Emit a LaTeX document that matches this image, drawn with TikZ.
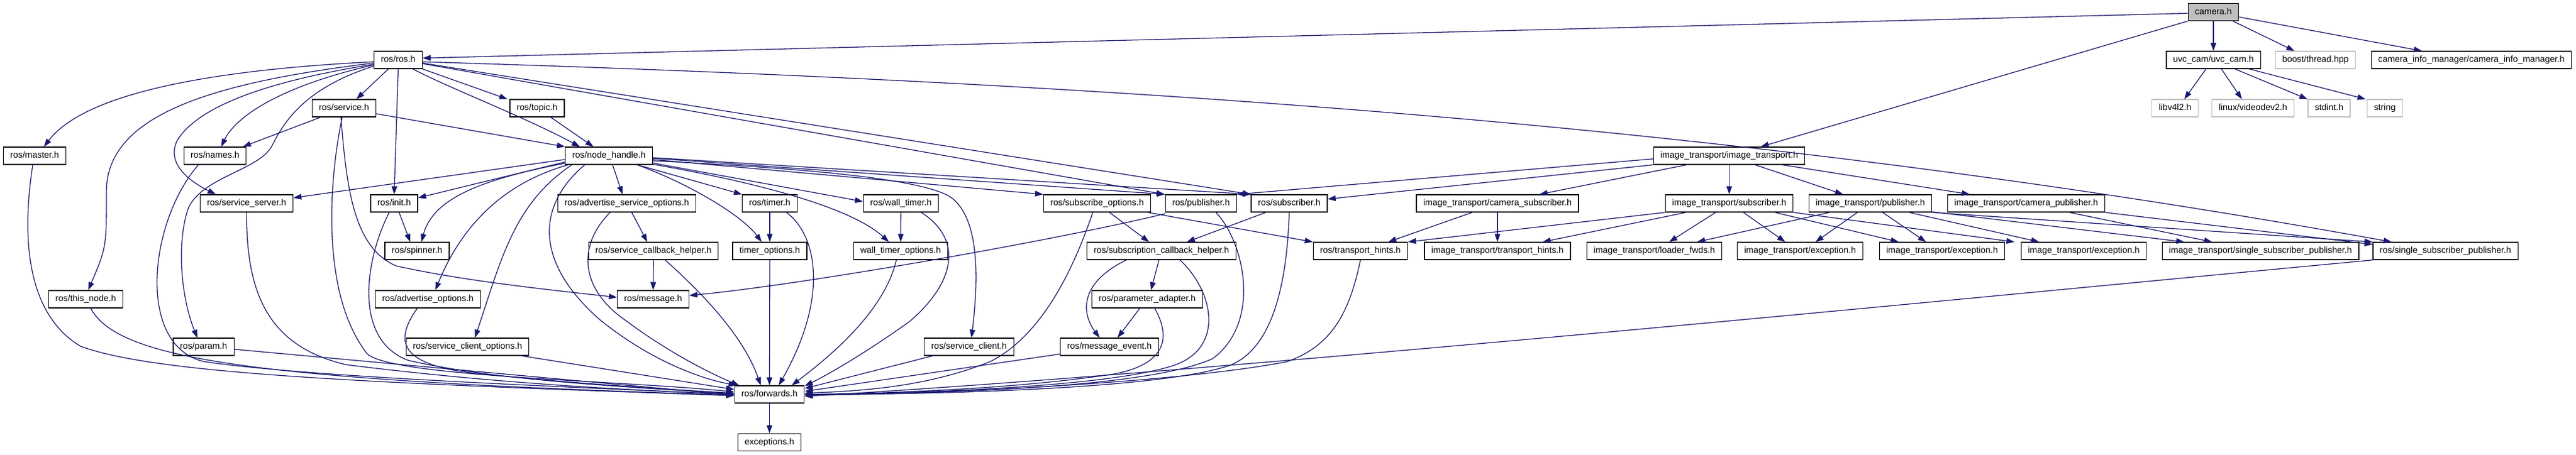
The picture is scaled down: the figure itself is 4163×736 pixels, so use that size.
\documentclass[tikz,border=0pt]{standalone}
\usepackage{fontspec}
\setmainfont{Liberation Sans}
\usetikzlibrary{arrows.meta}
\definecolor{edgec}{HTML}{191970}
\definecolor{grayb}{HTML}{BFBFBF}
\begin{document}
\begin{tikzpicture}[x=1pt,y=-1pt,
  nd/.style={draw=black, line width=1.3pt, fill=white, minimum height=28pt, inner xsep=11pt, inner ysep=0pt, font=\fontsize{14.3}{16}\selectfont, text height=10.5pt, text depth=3pt},
  gnd/.style={nd, draw=grayb},
  e/.style={draw=edgec, line width=1.3pt, -{Triangle[length=13pt,width=9pt]}}]
\useasboundingbox[fill=white] (0,0) rectangle (4163,736);
% row 0
\node[nd,fill=grayb] (cam) at (3577,19.5) {camera.h};
% row 1
\node[nd] (ros) at (643.5,97) {ros/ros.h};
\node[nd] (uvc) at (3577,97) {uvc\_cam/uvc\_cam.h};
\node[gnd] (boost) at (3742,97) {boost/thread.hpp};
\node[nd] (cim) at (3994,97) {camera\_info\_manager/camera\_info\_manager.h};
% row 2
\node[nd] (service) at (556,175) {ros/service.h};
\node[nd] (topic) at (868,175) {ros/topic.h};
\node[gnd] (libv) at (3515,175) {libv4l2.h};
\node[gnd] (vdev) at (3641,175) {linux/videodev2.h};
\node[gnd] (stdint) at (3764,175) {stdint.h};
\node[gnd] (string) at (3854,175) {string};
% row 3
\node[nd] (master) at (56,252) {ros/master.h};
\node[nd] (names) at (347.5,252) {ros/names.h};
\node[nd] (nh) at (984,252) {ros/node\_handle.h};
\node[nd] (itit) at (2794.5,252) {image\_transport/image\_transport.h};
% row 4
\node[nd] (ssrv) at (398.5,329) {ros/service\_server.h};
\node[nd] (init) at (637,329) {ros/init.h};
\node[nd] (aso) at (1013,329) {ros/advertise\_service\_options.h};
\node[nd] (timer) at (1244,329) {ros/timer.h};
\node[nd] (wtimer) at (1456,329) {ros/wall\_timer.h};
\node[nd] (subopt) at (1773,329) {ros/subscribe\_options.h};
\node[nd] (pub) at (1941,329) {ros/publisher.h};
\node[nd] (sub) at (2083.5,329) {ros/subscriber.h};
\node[nd] (itcsub) at (2420,329) {image\_transport/camera\_subscriber.h};
\node[nd] (itsub) at (2794.5,329) {image\_transport/subscriber.h};
\node[nd] (itpub) at (3022.5,329) {image\_transport/publisher.h};
\node[nd] (itcpub) at (3274.5,329) {image\_transport/camera\_publisher.h};
% row 5
\node[nd] (spinner) at (674,406) {ros/spinner.h};
\node[nd] (sch) at (1056,406) {ros/service\_callback\_helper.h};
\node[nd] (topt) at (1244,406) {timer\_options.h};
\node[nd] (wtopt) at (1455.5,406) {wall\_timer\_options.h};
\node[nd] (subcb) at (1877,406) {ros/subscription\_callback\_helper.h};
\node[nd] (rth) at (2198.5,406) {ros/transport\_hints.h};
\node[nd] (ith) at (2420,406) {image\_transport/transport\_hints.h};
\node[nd] (ilf) at (2673.5,406) {image\_transport/loader\_fwds.h};
\node[nd] (exca) at (2909,406) {image\_transport/exception.h};
\node[nd] (excb) at (3138.5,406) {image\_transport/exception.h};
\node[nd] (excc) at (3367.5,406) {image\_transport/exception.h};
\node[nd] (itssp) at (3653,406) {image\_transport/single\_subscriber\_publisher.h};
\node[nd] (rssp) at (3952,406) {ros/single\_subscriber\_publisher.h};
% row 6
\node[nd] (thisnode) at (138.6,484) {ros/this\_node.h};
\node[nd] (advopt) at (691.5,484) {ros/advertise\_options.h};
\node[nd] (msg) at (1055.5,484) {ros/message.h};
\node[nd] (padapt) at (1854,484) {ros/parameter\_adapter.h};
% row 7
\node[nd] (param) at (329,561) {ros/param.h};
\node[nd] (sco) at (755.5,561) {ros/service\_client\_options.h};
\node[nd] (sclient) at (1566,561) {ros/service\_client.h};
\node[nd] (mevent) at (1793,561) {ros/message\_event.h};
% row 8-9
\node[nd] (fwd) at (1243.5,638) {ros/forwards.h};
\node[nd] (exc) at (1243.5,715.5) {exceptions.h};

% camera.h
\draw[e] ([yshift=-2pt]cam.west) -- ([yshift=3pt]ros.east);
\draw[e] (cam.south west) -- ([xshift=51pt]itit.north);
\draw[e] (cam) -- (uvc);
\draw[e] ([xshift=-10pt]cam.south east) -- ([xshift=-34pt]boost.north);
\draw[e] ([yshift=-8pt]cam.east) -- ([xshift=-80pt]cim.north);
% uvc
\draw[e] ([xshift=-12pt]uvc.south) -- ([xshift=15pt]libv.north);
\draw[e] ([xshift=13pt]uvc.south) -- ([xshift=-18pt]vdev.north);
\draw[e] ([xshift=35pt]uvc.south) -- ([xshift=-35pt]stdint.north);
\draw[e] ([xshift=58pt]uvc.south) -- ([xshift=-2pt]string.north west);
% ros.h
\draw[e] ([yshift=-3pt]ros.west) .. controls (300,115) and (130,160) .. ([xshift=15pt]master.north);
\draw[e] ([yshift=-5pt]ros.west) .. controls (330,135) and (172,190) .. (172,310) .. controls (172,400) .. ([xshift=4pt]thisnode.north);
\draw[e] ([yshift=-8pt]ros.west) .. controls (450,140) and (380,190) .. ([xshift=10pt]names.north);
\draw[e] ([yshift=-7pt]ros.west) .. controls (440,130) and (320,170) .. (286,228) .. controls (270,262) and (300,290) .. ([xshift=-50pt]ssrv.north);
\draw[e] ([yshift=-10pt]ros.west) .. controls (500,140) and (462,190) .. (440,235) .. controls (420,275) and (330,285) .. (305,335) .. controls (285,390) and (292,480) .. ([xshift=-10pt]param.north);
\draw[e] ([xshift=-16pt]ros.south) -- ([xshift=20pt]service.north);
\draw[e] (ros.south) -- (init.north);
\draw[e] (ros.south east) -- ([xshift=-48pt]topic.north);
\draw[e] ([xshift=24pt]ros.south) .. controls (720,140) and (850,190) .. ([xshift=-47pt]nh.north);
\draw[e] ([yshift=-6pt]ros.east) -- ([xshift=-1pt]pub.north west);
\draw[e] ([yshift=-5pt]ros.east) -- (sub.north west);
\draw[e] ([yshift=-3pt]ros.east) .. controls (1883,136) and (2865,210) .. ([xshift=-87pt]rssp.north);
% service.h
\draw[e] ([xshift=-38pt]service.south) -- ([xshift=45pt]names.north);
\draw[e] ([yshift=-9pt]service.east) -- (nh.north west);
\draw[e] ([xshift=-5pt]service.south) .. controls (560,300) and (570,400) .. (640,430) .. controls (750,455) and (900,470) .. ([yshift=3pt]msg.west);
\draw[e] ([xshift=-3pt]service.south) .. controls (530,300) and (520,480) .. (594,573) .. controls (640,610) and (1000,615) .. ([yshift=4pt]fwd.west);
% into forwards from the left
\draw[e] ([xshift=-3pt]master.south) .. controls (40,350) and (30,500) .. (130,560) .. controls (250,605) and (600,620) .. ([yshift=-2pt]fwd.west);
\draw[e] ([xshift=8pt]thisnode.south) .. controls (190,580) and (400,615) .. ([yshift=-1pt]fwd.west);
\draw[e] ([xshift=-27pt]names.south) .. controls (240,360) and (220,560) .. (330,585) .. controls (500,610) and (900,625) .. (fwd.west);
\draw[e] ([yshift=-4pt]param.east) -- ([yshift=-1pt]fwd.west);
\draw[e] (ssrv.south) .. controls (398,470) and (430,560) .. (560,590) .. controls (800,620) and (1000,630) .. (fwd.west);
\draw[e] ([xshift=-8pt]init.south) .. controls (590,420) and (570,550) .. (660,583) .. controls (800,615) and (1000,625) .. ([yshift=1pt]fwd.west);
\draw[e] ([xshift=-17pt]advopt.south) .. controls (630,560) and (660,590) .. (760,603) .. controls (900,618) and (1050,628) .. ([yshift=2pt]fwd.west);
\draw[e] ([xshift=-12pt]sco.south east) -- ([yshift=8pt]fwd.west);
\draw[e] ([xshift=-39pt]nh.south) .. controls (870,330) and (860,420) .. (968,516) .. controls (1040,575) and (1120,610) .. ([xshift=4pt]fwd.north west);
\draw[e] ([xshift=-27pt]aso.south) .. controls (930,400) and (940,470) .. (1012,519) .. controls (1080,570) and (1150,605) .. ([xshift=8pt]fwd.north west);
\draw[e] ([xshift=19pt]sch.south) .. controls (1130,470) and (1200,540) .. ([xshift=-14pt]fwd.north);
\draw[e] (topt) -- (fwd);
\draw[e] ([xshift=27pt]timer.south) .. controls (1320,380) and (1340,480) .. ([xshift=15pt]fwd.north);
\draw[e] ([xshift=-7pt]wtopt.south) .. controls (1430,500) and (1350,570) .. ([xshift=36pt]fwd.north);
\draw[e] ([xshift=33pt]wtimer.south) .. controls (1560,390) and (1540,460) .. (1470,520) .. controls (1400,570) and (1340,605) .. ([yshift=-1pt]fwd.north east);
% into forwards from the right
\draw[e] ([xshift=-59pt]sclient.south) -- ([yshift=-5pt]fwd.north east);
\draw[e] ([yshift=3pt]mevent.south west) -- ([yshift=5pt]fwd.east);
\draw[e] ([xshift=-7pt]subopt.south) .. controls (1740,420) and (1690,540) .. (1600,585) .. controls (1500,625) and (1400,632) .. ([yshift=2pt]fwd.east);
\draw[e] ([xshift=24pt]pub.south) .. controls (2010,390) and (2040,520) .. (1960,580) .. controls (1850,630) and (1500,636) .. (fwd.east);
\draw[e] (sub.south) .. controls (2080,450) and (2060,560) .. (1990,590) .. controls (1880,630) and (1500,638) .. (fwd.east);
\draw[e] ([xshift=30pt]subcb.south) .. controls (1960,470) and (1980,560) .. (1900,590) .. controls (1800,625) and (1500,636) .. (fwd.east);
\draw[e] ([xshift=12pt]padapt.south) .. controls (1895,550) and (1880,590) .. (1800,605) .. controls (1650,628) and (1450,636) .. (fwd.east);
\draw[e] (rth.south) .. controls (2180,510) and (2150,560) .. (2080,585) .. controls (1900,620) and (1500,638) .. ([yshift=-1pt]fwd.east);
\draw[e] (rssp.south west) .. controls (3200,480) and (2000,600) .. ([yshift=-3pt]fwd.east);
\draw[e] (fwd) -- (exc);
% node_handle.h
\draw[e] ([yshift=-6pt]nh.west) -- ([yshift=9pt]ssrv.east);
\draw[e] ([yshift=-10pt]nh.west) -- ([yshift=9pt]init.east);
\draw[e] ([yshift=-12pt]nh.west) .. controls (780,290) and (700,320) .. ([xshift=7pt]spinner.north);
\draw[e] ([xshift=5pt]nh.south west) .. controls (800,300) and (740,380) .. ([xshift=12pt]advopt.north);
\draw[e] ([xshift=11pt]nh.south west) .. controls (830,330) and (810,420) .. ([xshift=12pt]sco.north);
\draw[e] ([xshift=6pt]nh.south) -- ([xshift=-7pt]aso.north);
\draw[e] ([xshift=46pt]nh.south) -- (timer.north west);
\draw[e] ([xshift=46pt]nh.south) .. controls (1120,300) and (1200,350) .. ([xshift=-13pt]topt.north);
\draw[e] ([yshift=3pt]nh.south east) -- ([yshift=3pt]wtimer.west);
\draw[e] ([yshift=1pt]nh.south east) .. controls (1250,300) and (1380,340) .. ([xshift=-19pt]wtopt.north);
\draw[e] ([yshift=-8pt]nh.east) .. controls (1250,270) and (1480,285) .. (1535,318) .. controls (1575,345) and (1585,420) .. ([xshift=4pt]sclient.north);
\draw[e] ([yshift=-6pt]nh.east) -- (subopt.north west);
\draw[e] ([yshift=-4pt]nh.east) -- (pub.north west);
\draw[e] ([yshift=-3pt]nh.east) -- (sub.north west);
% misc ros
\draw[e] ([xshift=8pt]init.south) -- ([xshift=-11pt]spinner.north);
\draw[e] ([xshift=22pt]topic.south) -- ([xshift=-25pt]nh.north);
\draw[e] ([xshift=8pt]aso.south) -- ([xshift=-10pt]sch.north);
\draw[e] (timer) -- (topt);
\draw[e] (wtimer) -- (wtopt);
\draw[e] (sch) -- (msg);
\draw[e] ([yshift=-2pt]pub.south west) .. controls (1700,390) and (1300,460) .. ([yshift=6pt]msg.east);
\draw[e] ([xshift=20pt]subopt.south) -- ([xshift=-20pt]subcb.north);
\draw[e] ([xshift=-38pt]sub.south) -- ([xshift=41pt]subcb.north);
\draw[e] ([xshift=-5pt]subopt.south east) -- (rth.north west);
\draw[e] ([xshift=-4pt]subcb.south) -- ([xshift=6pt]padapt.north);
\draw[e] ([xshift=-57pt]subcb.south) .. controls (1740,460) and (1750,510) .. ([xshift=-16pt]mevent.north);
\draw[e] ([xshift=-12pt]padapt.south) -- ([xshift=13pt]mevent.north);
% image_transport.h
\draw[e] ([yshift=-5pt]itit.west) -- (pub.north east);
\draw[e] (itit.south west) -- ([yshift=7pt]sub.east);
\draw[e] ([xshift=-69pt]itit.south) -- ([xshift=68pt]itcsub.north);
\draw[e] (itit) -- (itsub);
\draw[e] ([xshift=42pt]itit.south) -- ([xshift=-44pt]itpub.north);
\draw[e] ([xshift=86pt]itit.south) -- ([xshift=-91pt]itcpub.north);
% camera_subscriber
\draw[e] ([xshift=-41pt]itcsub.south) -- ([xshift=45pt]rth.north);
\draw[e] (itcsub) -- (ith);
% subscriber
\draw[e] (itsub.south west) -- (rth.north east);
\draw[e] ([xshift=-70pt]itsub.south) -- ([xshift=73pt]ith.north);
\draw[e] ([xshift=-22pt]itsub.south) -- ([xshift=24pt]ilf.north);
\draw[e] ([xshift=23pt]itsub.south) -- ([xshift=-24pt]exca.north);
\draw[e] ([xshift=74pt]itsub.south) -- ([xshift=-70pt]excb.north);
\draw[e] (itsub.south east) -- ([xshift=-112pt]excc.north);
% publisher
\draw[e] ([xshift=-66pt]itpub.south) -- ([xshift=69pt]ilf.north);
\draw[e] ([xshift=-21pt]itpub.south) -- ([xshift=25pt]exca.north);
\draw[e] ([xshift=20pt]itpub.south) -- ([xshift=-26pt]excb.north);
\draw[e] ([xshift=63pt]itpub.south) -- ([xshift=-72pt]excc.north);
\draw[e] ([yshift=1pt]itpub.south east) -- ([xshift=-123pt]itssp.north);
\draw[e] (itpub.south east) -- (rssp.north west);
% camera_publisher
\draw[e] ([xshift=70pt]itcpub.south) -- ([xshift=-78pt]itssp.north);
\draw[e] (itcpub.south east) -- ([yshift=-4pt]rssp.north west);
\end{tikzpicture}
\end{document}
